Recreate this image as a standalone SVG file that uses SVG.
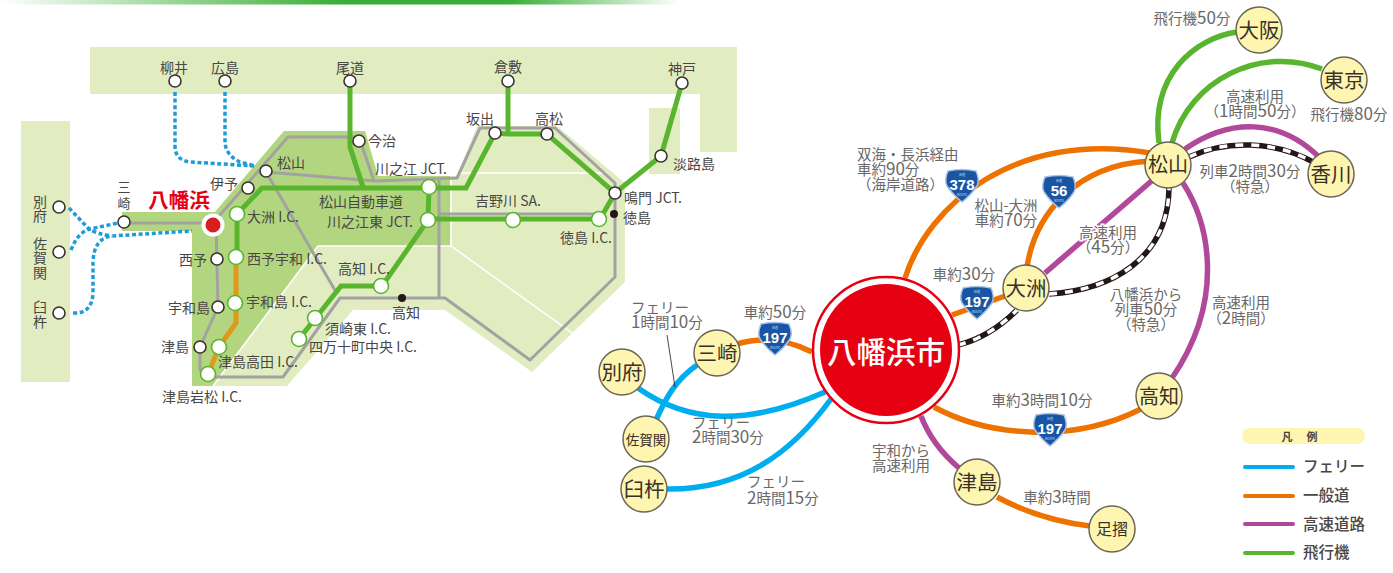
<svg xmlns="http://www.w3.org/2000/svg" width="1393" height="573" viewBox="0 0 1393 573">
<style>
text{font-family:"Noto Sans CJK JP","Noto Sans",sans-serif}
.m{font-size:14px;fill:#4a4644}
.mc{font-size:14px;fill:#4a4644;text-anchor:middle}
.r{font-size:14.5px;fill:#6a6867;text-anchor:middle}
.rs{font-size:14.5px;fill:#6a6867}
.d{font-size:17px}
.h{paint-order:stroke;stroke:#fff;stroke-width:3px}
.n{font-size:20.5px;fill:#3a3028;text-anchor:middle}
.c{fill:#fdf5b0;stroke:#6b6556;stroke-width:1.5}
.w{fill:#fff;stroke:#3a3330;stroke-width:1.6}
.g{fill:#fff;stroke:#5ab52e;stroke-width:1.6}
.b{fill:#231815}
.gr{fill:none;stroke:#a2a2a2;stroke-width:3;stroke-linejoin:round}
.gl{fill:none;stroke:#5ab52e;stroke-width:5;stroke-linejoin:miter}
.ol{fill:none;stroke:#e09a1a;stroke-width:5}
.dot{fill:none;stroke:#1e9cd7;stroke-width:3.5;stroke-dasharray:4 2.6}
.sep{fill:none;stroke:#fff;stroke-width:1.5}
.cb{fill:none;stroke:#00aeef;stroke-width:5.5}
.co{fill:none;stroke:#ee7200;stroke-width:5.5}
.cp{fill:none;stroke:#b1489a;stroke-width:5.5}
.cg{fill:none;stroke:#5ab52e;stroke-width:5.5}
.rk{fill:none;stroke:#231815;stroke-width:5.5}
.rw{fill:none;stroke:#fff;stroke-width:3.5;stroke-dasharray:8 8}
.sn{font-size:15px;fill:#fff;text-anchor:middle;font-family:"Liberation Sans",sans-serif;font-weight:700}
.st{font-size:3px;fill:#cfe0f5;text-anchor:middle}
.lg{stroke-width:4;stroke-linecap:round;fill:none}
.ll{font-size:15.5px;font-weight:500;fill:#4a4644}
</style>
<defs>
<linearGradient id="top" x1="0" x2="1" y1="0" y2="0">
<stop offset="0" stop-color="#fff"/><stop offset="0.5" stop-color="#3aae36"/><stop offset="0.75" stop-color="#3aae36"/><stop offset="1" stop-color="#fff"/>
</linearGradient>
<path id="shield" d="M-14,-15 Q0,-18 14,-15 Q18,-6 15,0 Q9,9 0,16 Q-9,9 -15,0 Q-18,-6 -14,-15Z" fill="#1a55a5" stroke="#a9c3e6" stroke-width="1.5"/>
</defs>
<rect x="0" y="0" width="680" height="4.5" fill="url(#top)"/>

<g id="map-background">
<path fill="#e1edc1" d="M90,47H737V152H700V94H90ZM649,108H680V174H649ZM21,121H70V382H21Z"/>
<path fill="#e1edc1" d="M122,212H215L284,131H365L378,176H457L477,126H557L625,183V282L532,372L445,310H353L287,386H192V231H122Z"/>
<path fill="#b2d57f" d="M122,212H215L284,131H365L378,176H450V246H318L213,386H192V231H122Z"/>
<path class="sep" d="M213,386L318,246H451L572,333M451,246V173H607"/>
</g>

<g id="map-connectors">
<path class="dot" d="M175,92V146Q175,160 190,162L255,166"/>
<path class="dot" d="M225,92V143Q226,155 240,162L255,166"/>
<path class="dot" d="M69,208L88,228Q96,234 112,236"/>
<path class="dot" d="M71,250Q78,232 90,229L118,223"/>
<path class="dot" d="M73,313Q92,314 93,293V262Q94,238 112,236L192,231"/>
<path class="gr" d="M124,223H213L288,137H359L374,181M266,172L375,181L457,178L480,128H555L615,183V277L530,360L445,298H340L283,377H207L200,370V347L218,307L216,225M266,172L336,292M439,178V298M439,214H600"/>
<path class="gl" d="M350,81V147L363,187"/>
<path class="gl" d="M237,257V214L262,188H466L495,133L508,134H547L615,193L600,219H428L429,187M428,220L382,286H341L299,339"/>
<path class="gl" d="M508,81V134"/>
<path class="gl" d="M682,83L661,156L615,193"/>
<path class="ol" d="M236,257V323L219,347L208,374"/>
</g>

<g id="m-yanai"><circle class="w" cx="175" cy="81" r="6"/><text class="mc" x="174" y="73">柳井</text></g>
<g id="m-hiroshima"><circle class="w" cx="225" cy="81" r="6"/><text class="mc" x="225" y="73">広島</text></g>
<g id="m-onomichi"><circle class="w" cx="350" cy="81" r="6"/><text class="mc" x="350" y="73">尾道</text></g>
<g id="m-kurashiki"><circle class="w" cx="508" cy="81" r="6"/><text class="mc" x="508" y="72">倉敷</text></g>
<g id="m-kobe"><circle class="w" cx="682" cy="83" r="6"/><text class="mc" x="682" y="74">神戸</text></g>
<g id="m-imabari"><circle class="w" cx="359" cy="141" r="6"/><text class="m" x="368" y="146">今治</text></g>
<g id="m-sakaide"><circle class="w" cx="495" cy="133" r="6"/><text class="mc" x="480" y="124">坂出</text></g>
<g id="m-takamatsu"><circle class="w" cx="547" cy="134" r="6"/><text class="mc" x="549" y="124">高松</text></g>
<g id="m-awaji"><circle class="w" cx="661" cy="156" r="6"/><text class="m" x="673" y="169">淡路島</text></g>
<g id="m-naruto"><circle class="w" cx="615" cy="193" r="6"/><text class="m" x="624" y="203">鳴門 JCT.</text></g>
<g id="m-tokushima"><circle class="b" cx="614" cy="214" r="4"/><text class="m" x="623" y="223">徳島</text></g>
<g id="m-matsuyama"><circle class="w" cx="266" cy="171" r="6"/><text class="m" x="277" y="168">松山</text></g>
<g id="m-iyo"><circle class="w" cx="248" cy="188" r="6"/><text class="m" x="210" y="189">伊予</text></g>
<g id="m-misaki"><circle class="w" cx="124" cy="222" r="6"/><text class="mc" x="124" y="192" style="font-size:13px">三</text><text class="mc" x="124" y="208" style="font-size:13px">崎</text></g>
<g id="m-beppu"><circle class="w" cx="59" cy="207" r="6"/><text class="mc" x="40" y="207">別</text><text class="mc" x="40" y="221">府</text></g>
<g id="m-saganoseki"><circle class="w" cx="59" cy="252" r="6"/><text class="mc" x="40" y="249">佐</text><text class="mc" x="40" y="263">賀</text><text class="mc" x="40" y="278">関</text></g>
<g id="m-usuki"><circle class="w" cx="59" cy="313" r="6"/><text class="mc" x="40" y="312">臼</text><text class="mc" x="40" y="327">杵</text></g>
<g id="m-seiyo"><circle class="w" cx="217" cy="259" r="6"/><text class="m" x="179" y="265">西予</text></g>
<g id="m-uwajima"><circle class="w" cx="218" cy="307" r="6"/><text class="m" x="168" y="313">宇和島</text></g>
<g id="m-tsushima"><circle class="w" cx="200" cy="347" r="6"/><text class="m" x="161" y="352">津島</text></g>
<g id="m-ozu-ic"><circle class="g" cx="237" cy="214" r="7.5"/><text class="m" x="247" y="222">大洲 I.C.</text></g>
<g id="m-seiyouwa-ic"><circle class="g" cx="236" cy="257" r="7.5"/><text class="m" x="247" y="264">西予宇和 I.C.</text></g>
<g id="m-uwajima-ic"><circle class="g" cx="235" cy="303" r="7.5"/><text class="m" x="246" y="307">宇和島 I.C.</text></g>
<g id="m-tsushimatakada-ic"><circle class="g" cx="219" cy="347" r="7.5"/><text class="m" x="218" y="367">津島高田 I.C.</text></g>
<g id="m-tsushimaiwamatsu-ic"><circle class="g" cx="208" cy="374" r="7.5"/><text class="m" x="162" y="402">津島岩松 I.C.</text></g>
<g id="m-kawanoe-jct"><circle class="g" cx="429" cy="187" r="7.5"/><text class="m" x="375" y="174">川之江 JCT.</text></g>
<g id="m-kawanoehigashi-jct"><circle class="g" cx="428" cy="220" r="7.5"/><text class="m" x="327" y="227">川之江東 JCT.</text></g>
<g id="m-yoshinogawa-sa"><circle class="g" cx="513" cy="220" r="7.5"/><text class="m" x="475" y="206">吉野川 SA.</text></g>
<g id="m-tokushima-ic"><circle class="g" cx="599" cy="219" r="7.5"/><text class="m" x="560" y="243">徳島 I.C.</text></g>
<g id="m-kochi-ic"><circle class="g" cx="381" cy="286" r="7.5"/><text class="m" x="338" y="274">高知 I.C.</text></g>
<g id="m-susakihigashi-ic"><circle class="g" cx="315" cy="318" r="7.5"/><text class="m" x="325" y="334">須崎東 I.C.</text></g>
<g id="m-shimanto-ic"><circle class="g" cx="299" cy="339" r="7.5"/><text class="m" x="309" y="352">四万十町中央 I.C.</text></g>
<g id="m-kochi"><circle class="b" cx="402" cy="298" r="4"/><text class="m" x="392" y="318">高知</text></g>
<text class="m" x="319" y="207">松山自動車道</text>
<g id="m-yawatahama"><circle cx="213" cy="225" r="9.5" fill="#d91e1e" stroke="#fff" stroke-width="4"/><text x="179" y="208" text-anchor="middle" style="font-size:20.5px;font-weight:700;fill:#e60012">八幡浜</text></g>

<g id="connectors">
<path class="co" d="M905,278C928,205 1015,130 1150,153"/>
<path class="co" d="M1027,267C1035,215 1075,165 1150,161"/>
<path class="co" d="M952,315L1005,296"/>
<path class="co" d="M737,344Q775,333 812,352"/>
<path class="co" d="M934,407C985,435 1070,445 1141,409"/>
<path class="co" d="M997,497Q1040,520 1090,526"/>
<path class="cp" d="M1045,273L1155,178"/>
<path class="cp" d="M1185,149C1230,118 1280,118 1320,158"/>
<path class="cp" d="M1183,183C1210,225 1225,300 1172,378"/>
<path class="cp" d="M921,416Q932,445 959,468"/>
<path class="cg" d="M1159,143C1150,75 1195,38 1237,32"/>
<path class="cg" d="M1172,143C1190,80 1260,45 1322,69"/>
<path class="cb" d="M638,388C690,425 750,425 825,392"/>
<path class="cb" d="M697,365C675,380 665,400 656,420"/>
<path class="cb" d="M667,489C740,490 790,455 831,399"/>
<path class="rk" d="M958,345Q990,337 1017,310"/><path class="rw" d="M958,345Q990,337 1017,310"/>
<path class="rk" d="M1049,294C1110,290 1168,260 1169,188"/><path class="rw" d="M1049,294C1110,290 1168,260 1169,188"/>
<path class="rk" d="M1189,157C1225,140 1275,140 1315,163"/><path class="rw" d="M1189,157C1225,140 1275,140 1315,163"/>
<path d="M667,335L675,387" stroke="#231815" stroke-width="0.8" fill="none"/>
</g>

<g id="shield-197-a" transform="translate(775,339)"><use href="#shield"/><text class="st" y="-10">国道</text><text class="sn" y="4">197</text><text class="st" y="10">ROUTE</text></g>
<g id="shield-197-b" transform="translate(977,303)"><use href="#shield"/><text class="st" y="-10">国道</text><text class="sn" y="4">197</text><text class="st" y="10">ROUTE</text></g>
<g id="shield-378" transform="translate(962,186)"><use href="#shield"/><text class="st" y="-10">国道</text><text class="sn" y="4">378</text><text class="st" y="10">ROUTE</text></g>
<g id="shield-56" transform="translate(1059,192)"><use href="#shield"/><text class="st" y="-10">国道</text><text class="sn" y="4">56</text><text class="st" y="10">ROUTE</text></g>
<g id="shield-197-c" transform="translate(1050,430)"><use href="#shield"/><text class="st" y="-10">国道</text><text class="sn" y="4">197</text><text class="st" y="10">ROUTE</text></g>

<g id="n-yawatahama"><circle cx="886" cy="350" r="73" fill="#fff" stroke="#e60012" stroke-width="2.5"/><circle cx="886" cy="350" r="66" fill="#e60012"/><text x="886" y="363" text-anchor="middle" style="font-size:29.5px;font-weight:500;fill:#fff">八幡浜市</text></g>
<g id="n-osaka"><circle class="c" cx="1259" cy="30" r="23"/><text class="n" x="1259" y="38">大阪</text></g>
<g id="n-tokyo"><circle class="c" cx="1344" cy="80" r="23"/><text class="n" x="1344" y="88">東京</text></g>
<g id="n-matsuyama"><circle class="c" cx="1168" cy="165" r="23"/><text class="n" x="1168" y="172" style="font-size:20px">松山</text></g>
<g id="n-kagawa"><circle class="c" cx="1331" cy="174" r="23"/><text class="n" x="1331" y="182">香川</text></g>
<g id="n-ozu"><circle class="c" cx="1026" cy="288" r="23"/><text class="n" x="1026" y="296">大洲</text></g>
<g id="n-misaki"><circle class="c" cx="717" cy="353" r="23"/><text class="n" x="717" y="361">三崎</text></g>
<g id="n-beppu"><circle class="c" cx="622" cy="372" r="23"/><text class="n" x="622" y="380">別府</text></g>
<g id="n-saganoseki"><circle class="c" cx="646" cy="439" r="23"/><text class="n" x="646" y="445" style="font-size:13.5px">佐賀関</text></g>
<g id="n-usuki"><circle class="c" cx="644" cy="489" r="23"/><text class="n" x="644" y="497">臼杵</text></g>
<g id="n-kochi"><circle class="c" cx="1159" cy="396" r="23"/><text class="n" x="1159" y="404" style="font-size:20px">高知</text></g>
<g id="n-tsushima"><circle class="c" cx="977" cy="482" r="23"/><text class="n" x="977" y="490">津島</text></g>
<g id="n-ashizuri"><circle class="c" cx="1112" cy="529" r="23"/><text class="n" x="1112" y="535" style="font-size:16px">足摺</text></g>

<g id="route-labels">
<text class="r" x="1192" y="24">飛行機<tspan class="d">50</tspan>分</text>
<text class="r" x="1255" y="102">高速利用</text><text class="r" x="1255" y="117">（<tspan class="d">1</tspan>時間<tspan class="d">50</tspan>分）</text>
<text class="r" x="1349" y="120">飛行機<tspan class="d">80</tspan>分</text>
<text class="r" x="1250" y="177">列車<tspan class="d">2</tspan>時間<tspan class="d">30</tspan>分</text><text class="r" x="1250" y="192">（特急）</text>
<text class="r" x="1146" y="300">八幡浜から</text><text class="r" x="1146" y="315">列車<tspan class="d">50</tspan>分</text><text class="r" x="1146" y="330">（特急）</text>
<text class="r" x="1241" y="308">高速利用</text><text class="r" x="1241" y="324">（<tspan class="d">2</tspan>時間）</text>
<text class="r h" x="1108" y="238">高速利用</text><text class="r" x="1108" y="253">（<tspan class="d">45</tspan>分）</text>
<text class="r" x="1006" y="211">松山-大洲</text><text class="r" x="1006" y="226">車約<tspan class="d">70</tspan>分</text>
<text class="rs" x="857" y="160">双海・長浜経由</text><text class="rs" x="857" y="175">車約<tspan class="d">90</tspan>分</text><text class="rs" x="857" y="190">（海岸道路）</text>
<text class="r" x="964" y="280">車約<tspan class="d">30</tspan>分</text>
<text class="r" x="775" y="318">車約<tspan class="d">50</tspan>分</text>
<text class="rs" x="631" y="313">フェリー</text><text class="rs" x="631" y="328"><tspan class="d">1</tspan>時間<tspan class="d">10</tspan>分</text>
<text class="rs" x="692" y="428">フェリー</text><text class="rs" x="692" y="443"><tspan class="d">2</tspan>時間<tspan class="d">30</tspan>分</text>
<text class="rs" x="747" y="487">フェリー</text><text class="rs" x="747" y="504"><tspan class="d">2</tspan>時間<tspan class="d">15</tspan>分</text>
<text class="r" x="901" y="456">宇和から</text><text class="r" x="901" y="471">高速利用</text>
<text class="r" x="1042" y="406">車約<tspan class="d">3</tspan>時間<tspan class="d">10</tspan>分</text>
<text class="r" x="1057" y="503">車約<tspan class="d">3</tspan>時間</text>
</g>

<g id="legend">
<rect x="1242" y="428" width="123" height="16" rx="8" fill="#fdf5b0"/>
<text x="1287" y="441" text-anchor="middle" style="font-size:11px;font-weight:700;fill:#4a4644">凡</text><text x="1312" y="441" text-anchor="middle" style="font-size:11px;font-weight:700;fill:#4a4644">例</text>
<path class="lg" stroke="#00aeef" d="M1245,467H1293"/><text class="ll" x="1303" y="472">フェリー</text>
<path class="lg" stroke="#ee7200" d="M1245,496H1293"/><text class="ll" x="1303" y="501">一般道</text>
<path class="lg" stroke="#b1489a" d="M1245,524H1293"/><text class="ll" x="1303" y="530">高速道路</text>
<path class="lg" stroke="#5ab52e" d="M1245,553H1293"/><text class="ll" x="1303" y="558">飛行機</text>
</g>
</svg>
